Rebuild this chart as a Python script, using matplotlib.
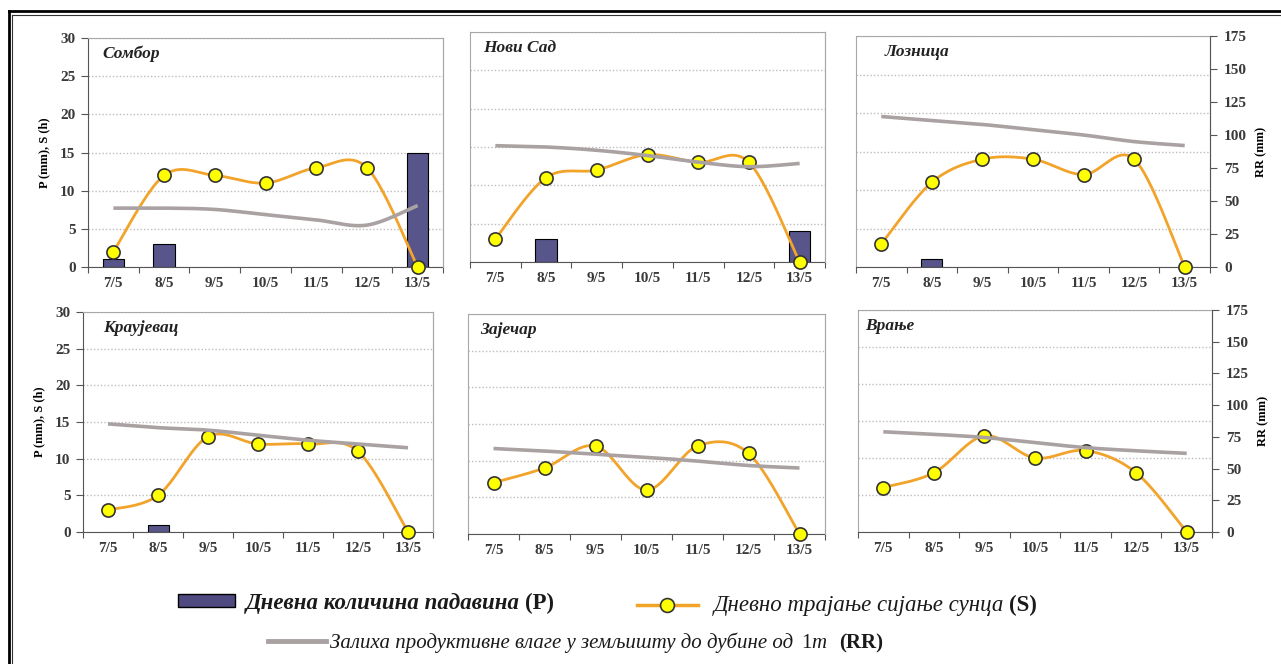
import numpy as np
import matplotlib
matplotlib.use("Agg")
import matplotlib.pyplot as plt
from matplotlib.patches import Rectangle
from matplotlib.lines import Line2D

plt.rcParams['font.family'] = ['Liberation Serif', 'DejaVu Serif']

# data
days = ['7/5', '8/5', '9/5', '10/5', '11/5', '12/5', '13/5']
stations = ['Сомбор', 'Нови Сад', 'Лозница', 'Краујевац', 'Зајечар', 'Врање']

# daily precipitation P (mm)
p_sombor = [1, 3, 0, 0, 0, 0, 15]
p_novisad = [0, 3, 0, 0, 0, 0, 4]
p_loznica = [0, 1, 0, 0, 0, 0, 0]
p_kragujevac = [0, 1, 0, 0, 0, 0, 0]
p_zajecar = [0, 0, 0, 0, 0, 0, 0]
p_vranje = [0, 0, 0, 0, 0, 0, 0]

# daily sunshine duration S (h)
s_sombor = [2, 12, 12, 11, 13, 13, 0]
s_novisad = [3, 11, 12, 14, 13, 13, 0]
s_loznica = [3, 11, 14, 14, 12, 14, 0]
s_kragujevac = [3, 5, 13, 12, 12, 11, 0]
s_zajecar = [7, 9, 12, 6, 12, 11, 0]
s_vranje = [6, 8, 13, 10, 11, 8, 0]

# soil moisture reserve RR (mm), right axis
rr_sombor = [45, 45, 44, 40, 36, 32, 47]
rr_novisad = [88.5, 87.5, 85, 81, 76, 72.5, 75]
rr_loznica = [114, 111, 108, 104, 100, 95, 92]
rr_kragujevac = [86, 83, 81, 77, 73, 70, 67]
rr_zajecar = [68, 66, 63.5, 61, 58, 54.5, 52.5]
rr_vranje = [79, 77, 74.5, 70.5, 66.5, 64, 62]

P = [p_sombor, p_novisad, p_loznica, p_kragujevac, p_zajecar, p_vranje]
S = [s_sombor, s_novisad, s_loznica, s_kragujevac, s_zajecar, s_vranje]
RR = [rr_sombor, rr_novisad, rr_loznica, rr_kragujevac, rr_zajecar, rr_vranje]

BAR_C = '#57558a'
SUN_C = '#f2a32a'
RR_C = '#aaa2a2'
W, H = 1281, 664

# panel boxes in pixels (x0, y0, x1, y1) and title offsets
boxes = [(88, 38, 443, 267), (470, 32, 825, 262), (856, 36, 1210, 267),
         (83, 312, 433, 532), (468, 314, 825, 534), (858, 310, 1212, 532)]
title_dx = [14, 13, 29, 20, 12, 7]


def smooth(y, n=24):
    # excel-like smoothed line (catmull-rom through the points)
    y = np.asarray(y, float)
    x = np.arange(len(y), dtype=float)
    px = np.concatenate([[x[0]], x, [x[-1]]])
    py = np.concatenate([[y[0]], y, [y[-1]]])
    t = np.linspace(0, 1, n, endpoint=False)
    xs, ys = [], []
    for i in range(len(y) - 1):
        for src, out in ((px, xs), (py, ys)):
            a, b, c, d = src[i:i + 4]
            out.append(0.5 * (2 * b + (c - a) * t + (2 * a - 5 * b + 4 * c - d) * t ** 2
                              + (-a + 3 * b - 3 * c + d) * t ** 3))
    xs.append([x[-1]])
    ys.append([y[-1]])
    return np.concatenate(xs), np.concatenate(ys)


fig = plt.figure(figsize=(W / 100, H / 100), dpi=100)

# overlay in pixel coords for frame, titles and legend
lay = fig.add_axes([0, 0, 1, 1])
lay.set_xlim(0, W)
lay.set_ylim(H, 0)
lay.axis('off')
lay.set_zorder(10)

# double frame (top and left)
lay.plot([8.5, W + 5], [11, 11], color='black', lw=2.0)
lay.plot([8.5, 8.5], [11, H + 5], color='black', lw=2.0)
lay.plot([12, W + 5], [14.5, 14.5], color='#333333', lw=0.8)
lay.plot([12, 12], [14.5, H + 5], color='#333333', lw=0.8)

x = np.arange(len(days))
for i, (x0, y0, x1, y1) in enumerate(boxes):
    col = i % 3
    ax = fig.add_axes([x0 / W, 1 - y1 / H, (x1 - x0) / W, (y1 - y0) / H])
    edge_w = [0.8 if v > 0 else 0 for v in P[i]]
    ax.bar(x, P[i], width=0.42, color=BAR_C, edgecolor='black', lw=edge_w, zorder=2)
    sx, sy = smooth(S[i])
    ax.plot(sx, sy, color=SUN_C, lw=2, zorder=3)
    ax.plot(x, S[i], 'o', ms=9.5, mfc='#ffff00', mec='#333333', mew=1.2,
            zorder=4, clip_on=False)
    ax.set_xlim(-0.5, 6.5)
    ax.set_ylim(0, 30)
    ax.set_yticks(range(0, 31, 5))
    ax.yaxis.grid(True, ls=(0, (1, 1.5)), color='#bdbdbd', lw=1)
    ax.set_axisbelow(True)
    ax.set_xticks(x)
    ax.set_xticklabels(days, fontsize=11, fontweight='bold', color='#3a3a3a')
    ax.set_xticks(np.arange(-0.5, 7, 1), minor=True)
    ax.tick_params(axis='x', which='major', length=0, pad=7)
    ax.tick_params(axis='x', which='minor', length=4, color='#555555', width=0.8)
    for s in ['top', 'right', 'left']:
        ax.spines[s].set_color('#a8a8a8')
    ax.spines['bottom'].set_color('#555555')
    if col == 0:
        ax.spines['left'].set_color('#555555')
        ax.tick_params(axis='y', length=5, color='#555555', width=0.8, pad=4,
                       labelsize=11, labelcolor='#3a3a3a')
        for lab in ax.get_yticklabels():
            lab.set_fontweight('bold')
        ax.set_ylabel('P (mm), S (h)', fontsize=9, fontweight='bold', labelpad=7)
    else:
        ax.tick_params(axis='y', length=0, labelleft=False)

    ax2 = ax.twinx()
    rx, ry = smooth(RR[i])
    ax2.plot(rx, ry, color=RR_C, lw=2.6, zorder=5, solid_capstyle='butt')
    ax2.set_ylim(0, 175)
    ax2.set_xlim(-0.5, 6.5)
    for s in ['top', 'left', 'bottom']:
        ax2.spines[s].set_visible(False)
    if col == 2:
        ax2.spines['right'].set_color('#555555')
        ax2.set_yticks(range(0, 176, 25))
        ax2.tick_params(axis='y', length=5, color='#555555', width=0.8, pad=5,
                        labelsize=11, labelcolor='#3a3a3a')
        for lab in ax2.get_yticklabels():
            lab.set_fontweight('bold')
        ax2.set_ylabel('RR (mm)', fontsize=9, fontweight='bold', labelpad=6)
    else:
        ax2.spines['right'].set_color('#a8a8a8')
        ax2.set_yticks([])

    lay.text(x0 + title_dx[i], y0 + 20, stations[i], fontsize=12.5, fontweight='bold',
             fontstyle='italic', color='#222222', va='baseline')

# legend
renderer = fig.canvas.get_renderer()


def put_pieces(xp, yp, pieces):
    for s, kw in pieces:
        if s is None:
            xp += kw
            continue
        t = lay.text(xp, yp, s, va='baseline', color='#1a1a1a', **kw)
        xp += t.get_window_extent(renderer=renderer).width
    return xp


lay.add_patch(Rectangle((178, 594), 57, 13, facecolor='#4f4a80', edgecolor='black', lw=1))
put_pieces(246, 609, [('Дневна количина падавина', dict(fontsize=16.5, fontstyle='italic', fontweight='bold')),
                      (None, 5),
                      ('(P)', dict(fontsize=16.5, fontweight='bold'))])

lay.add_line(Line2D([637, 698], [605, 605], color=SUN_C, lw=2.5))
lay.plot([667], [605], 'o', ms=10, mfc='#ffff00', mec='#333333', mew=1.2)
put_pieces(714, 611, [('Дневно трајање сијање сунца', dict(fontsize=16.5, fontstyle='italic')),
                      (None, 5),
                      ('(S)', dict(fontsize=16.5, fontweight='bold'))])

lay.add_line(Line2D([268, 326], [641, 641], color=RR_C, lw=3.5))
put_pieces(330, 648, [('Залиха продуктивне влаге у земљишту до дубине од', dict(fontsize=15, fontstyle='italic')),
                      (None, 8),
                      ('1', dict(fontsize=15)),
                      ('m', dict(fontsize=15, fontstyle='italic')),
                      (None, 12),
                      ('(RR)', dict(fontsize=15, fontweight='bold'))])

fig.savefig('out.png', dpi=100)
